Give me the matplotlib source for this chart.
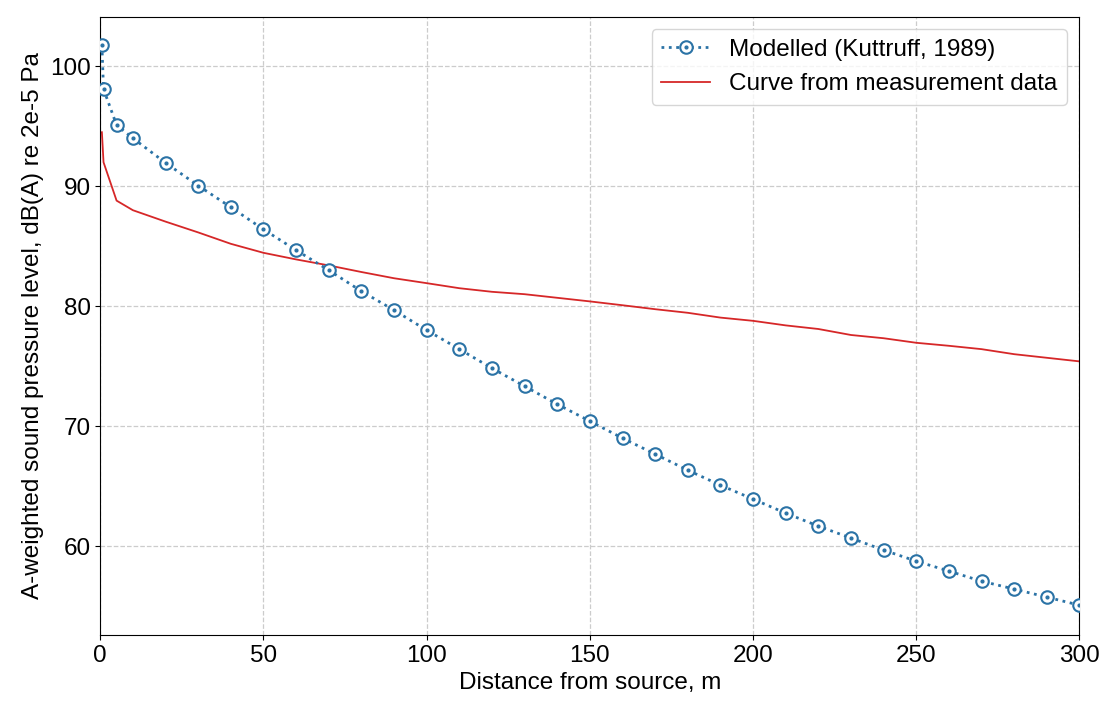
import matplotlib
matplotlib.use("Agg")
import matplotlib.pyplot as plt

plt.rcParams['font.family'] = ['Liberation Sans', 'DejaVu Sans']

model_x = [0.5, 1, 5, 10, 20, 30, 40, 50, 60, 70, 80, 90, 100, 110, 120, 130, 140, 150,
           160, 170, 180, 190, 200, 210, 220, 230, 240, 250, 260, 270, 280, 290, 300]
model_y = [101.75, 98.1, 95.1, 94.0, 91.95, 90.05, 88.25, 86.4, 84.67, 83.0, 81.25, 79.67,
           78.0, 76.42, 74.83, 73.33, 71.83, 70.42, 69.0, 67.67, 66.33, 65.08, 63.92,
           62.75, 61.67, 60.67, 59.67, 58.75, 57.92, 57.08, 56.42, 55.75, 55.08]

meas_x = [0.5, 1, 5, 10, 20, 30, 40, 50, 60, 70, 80, 90, 100, 110, 120, 130, 140, 150,
          160, 170, 180, 190, 200, 210, 220, 230, 240, 250, 260, 270, 280, 290, 300]
meas_y = [94.5, 92.0, 88.8, 88.0, 87.05, 86.15, 85.2, 84.45, 83.9, 83.4, 82.85, 82.33,
          81.92, 81.5, 81.2, 81.0, 80.7, 80.4, 80.08, 79.75, 79.45, 79.05, 78.78, 78.4,
          78.1, 77.6, 77.33, 76.95, 76.7, 76.42, 76.0, 75.7, 75.4]

blue = '#2b73a6'
red = '#d62728'
fs = 17.5

fig, ax = plt.subplots(figsize=(11.14, 7.11), dpi=100)
fig.subplots_adjust(left=0.09, right=0.969, top=0.976, bottom=0.107)

line_m, = ax.plot(model_x, model_y, linestyle=':', color=blue, linewidth=2,
                  marker='o', markersize=9, markerfacecolor='white',
                  markeredgecolor=blue, markeredgewidth=1.5, zorder=3)
dots_m, = ax.plot(model_x, model_y, linestyle='none', marker='o', markersize=2,
                  color=blue, zorder=4)
line_r, = ax.plot(meas_x, meas_y, color=red, linewidth=1.3, zorder=2)

ax.set_xlim(0, 300)
ax.set_ylim(52.6, 104.1)
ax.set_xticks([0, 50, 100, 150, 200, 250, 300])
ax.set_yticks([60, 70, 80, 90, 100])
ax.grid(True, linestyle='--', color='#cccccc', linewidth=0.9)
ax.set_axisbelow(True)
ax.tick_params(labelsize=fs)
ax.set_xlabel('Distance from source, m', fontsize=fs)
ax.set_ylabel('A-weighted sound pressure level, dB(A) re 2e-5 Pa', fontsize=fs)
ax.legend([(line_m, dots_m), line_r],
          ['Modelled (Kuttruff, 1989)', 'Curve from measurement data'],
          loc='upper right', fontsize=fs, borderaxespad=0.5)

fig.savefig('out.png', dpi=100)
